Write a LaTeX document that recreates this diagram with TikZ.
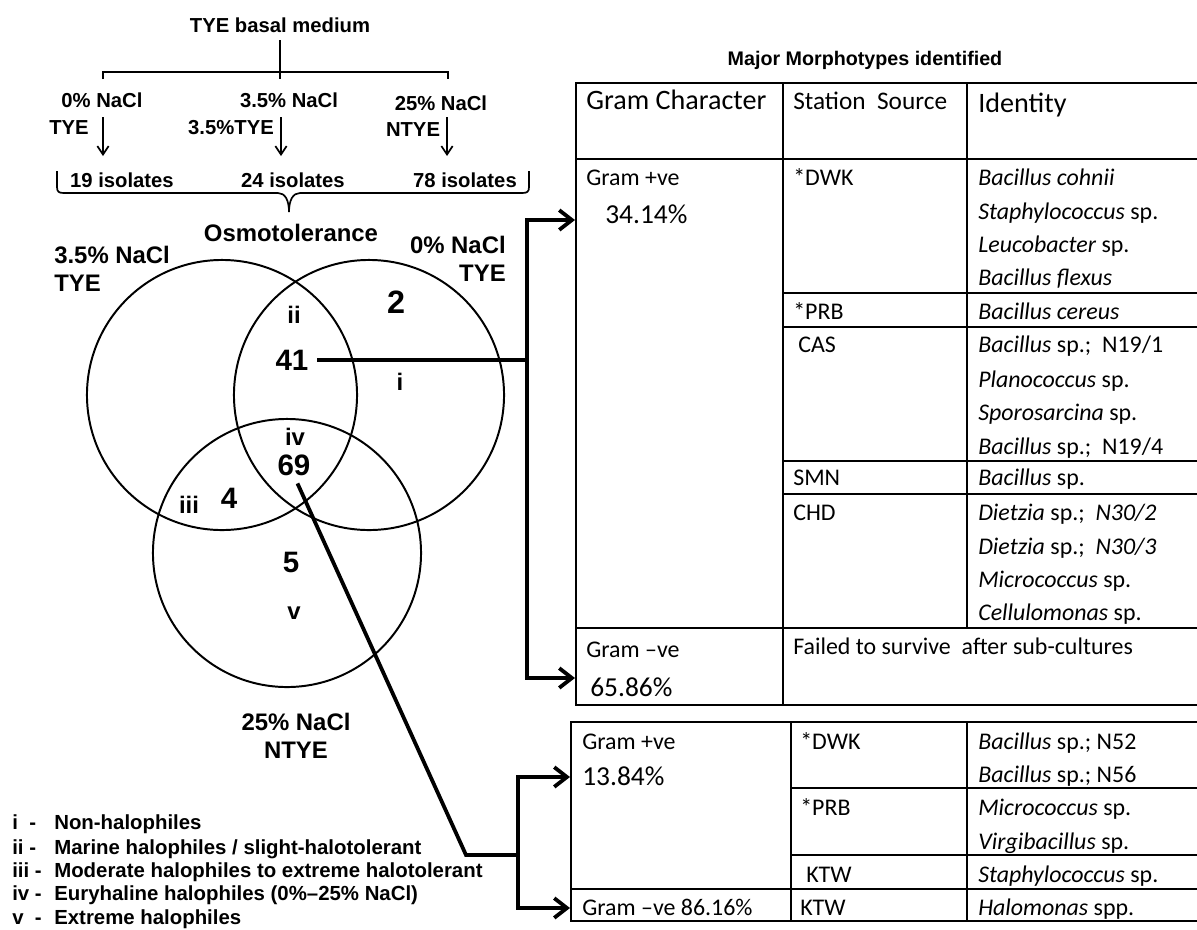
\documentclass[tikz,border=0pt]{standalone}
\usepackage{fontspec}
\setmainfont{Carlito}
\newfontfamily\arialfont{Liberation Sans}
\usetikzlibrary{positioning}
\usetikzlibrary{arrows.meta}
\usetikzlibrary{calc}

\tikzset{
	treelabel/.style={font=\arialfont\bfseries\fontsize{14.4}{17}\selectfont, inner sep=0pt},
	vennlabel/.style={font=\arialfont\bfseries\fontsize{17}{20}\selectfont, inner sep=0pt},
	vennnum/.style={font=\arialfont\bfseries\fontsize{21}{24}\selectfont, inner sep=0pt},
	keylabel/.style={font=\arialfont\bfseries\fontsize{14.5}{17}\selectfont, inner sep=0pt, anchor=west, text height=10.4pt, text depth=0pt},
	tabcell/.style={font=\fontsize{17}{20}\selectfont, inner sep=0pt, anchor=west, text height=11pt, text depth=0pt},
	tabhead/.style={tabcell, font=\fontsize{20}{24}\selectfont, text height=13pt},
	tabpct/.style={tabcell, font=\fontsize{19.5}{23}\selectfont, text height=12.6pt},
	vennring/.style={black, line width=1.4pt},
	treeline/.style={black, line width=1.2pt},
	treearrow/.style={treeline, -{Straight Barb[length=6pt, width=8pt]}},
	thickline/.style={black, line width=2.7pt},
	bigtips/.style={{Straight Barb[length=9pt, width=14pt]}-{Straight Barb[length=9pt, width=14pt]}},
	tabline/.style={black, line width=1.1pt},
}

\begin{document}
\begin{tikzpicture}[x=0.025cm, y=-0.025cm]
	\useasboundingbox (0,0) rectangle (1197,929);

	% media tree
	\node[treelabel] (basal) at (280,25) {TYE basal medium};
	\coordinate (split) at (280,72);
	\coordinate (splitL) at (103,72);
	\coordinate (splitR) at (448,72);
	\coordinate (tickL) at (103,79);
	\coordinate (tickM) at (280,79);
	\coordinate (tickR) at (448,79);
	\draw[treeline, shorten <=5.5pt] (basal.south) -- (split);
	\draw[treeline] (tickL) -- (splitL) -- (splitR) -- (tickR);
	\draw[treeline] (split) -- (tickM);

	\node[treelabel] (nacl0) at (102,100) {0\% NaCl};
	\node[treelabel] (nacl35) at (289,100) {3.5\% NaCl};
	\node[treelabel] (nacl25) at (441,103) {25\% NaCl};
	\node[treelabel] (tye0) at (69,128) {TYE};
	\node[treelabel] (tye35) at (231,128) {3.5\%TYE};
	\node[treelabel] (tye25) at (413,130) {NTYE};
	\coordinate (arr0) at (103,117);
	\coordinate (arr35) at (281,117);
	\coordinate (arr25) at (447,117);
	\draw[treearrow] (arr0) -- ++(0,39);
	\draw[treearrow] (arr35) -- ++(0,39);
	\draw[treearrow] (arr25) -- ++(0,39);
	\node[treelabel] (iso0) at (122,180) {19 isolates};
	\node[treelabel] (iso35) at (293,180) {24 isolates};
	\node[treelabel] (iso25) at (465,180) {78 isolates};

	% brace down to the Venn diagram
	\draw[treeline] (57,171) -- (57,187) .. controls (57,192) and (59,193) .. (64,193) -- (278,193) .. controls (285,193) and (289,200) .. (289,212) .. controls (289,200) and (293,193) .. (300,193) -- (522,193) .. controls (527,193) and (529,192) .. (529,187) -- (529,171);

	% Venn diagram
	\node[vennlabel] (osmo) at (291,233) {Osmotolerance};
	\node[vennlabel, align=left, anchor=west] (set35) at (54,269) {3.5\% NaCl\\TYE};
	\node[vennlabel, align=right, anchor=east] (set0) at (506,259) {0\% NaCl\\TYE};
	\node[vennlabel, align=center] (set25) at (296,736) {25\% NaCl\\NTYE};

	\draw[vennring] (222,395) circle[radius=3.375cm];
	\draw[vennring] (369,395) circle[radius=3.375cm];
	\draw[vennring] (287,553) circle[radius=3.35cm];

	\node[vennnum, font=\arialfont\bfseries\fontsize{23}{26}\selectfont] (n2) at (396,302) {2};
	\node[vennnum] (n41) at (292,360) {41};
	\node[vennnum] (n69) at (294,465) {69};
	\node[vennnum] (n4) at (229,498) {4};
	\node[vennnum] (n5) at (291,562) {5};
	\node[vennlabel] (ri) at (400,382) {i};
	\node[vennlabel] (rii) at (294,315) {ii};
	\node[vennlabel] (riii) at (189,505) {iii};
	\node[vennlabel] (riv) at (295,437) {iv};
	\node[vennlabel] (rv) at (294,613) {v};

	% connectors to the tables
	\coordinate (hub41) at (527,360);
	\coordinate (hubtop) at (527,220);
	\coordinate (hubbot) at (527,678);
	\coordinate (tipA) at (575,220);
	\coordinate (tipB) at (575,678);
	\draw[thickline, shorten <=6pt] (n41) -- (hub41);
	\draw[thickline, bigtips] (tipA) -- (hubtop) -- (hubbot) -- (tipB);

	\coordinate (bend69) at (466,855);
	\coordinate (hub69) at (518,855);
	\coordinate (hubtop2) at (518,777);
	\coordinate (hubbot2) at (518,908);
	\coordinate (tipC) at (570,777);
	\coordinate (tipD) at (570,908);
	\draw[thickline, shorten <=6pt] (n69.south) -- (bend69) -- (hub69);
	\draw[thickline, bigtips] (tipC) -- (hubtop2) -- (hubbot2) -- (tipD);

	% key
	\node[keylabel] (keyi) at (12,822) {i\ \ -};
	\node[keylabel] (keyii) at (12,847) {ii -};
	\node[keylabel] (keyiii) at (12,870) {iii -};
	\node[keylabel] (keyiv) at (12,893) {iv -};
	\node[keylabel] (keyv) at (12,917) {v\ \ -};
	\node[keylabel] (texti) at (54,822) {Non-halophiles};
	\node[keylabel] (textii) at (54,847) {Marine halophiles / slight-halotolerant};
	\node[keylabel] (textiii) at (54,870) {Moderate halophiles to extreme halotolerant};
	\node[keylabel] (textiv) at (54,893) {Euryhaline halophiles (0\%–25\% NaCl)};
	\node[keylabel] (textv) at (54,917) {Extreme halophiles};

	% upper table
	\node[treelabel, font=\arialfont\bfseries\fontsize{14}{16}\selectfont] (major) at (865,60) {Major Morphotypes identified};
	\draw[tabline] (1197,83) -- (576,83) -- (576,705) -- (1197,705);
	\draw[tabline] (576,159) -- (1197,159);
	\draw[tabline] (576,628) -- (1197,628);
	\draw[tabline] (783,83) -- (783,705);
	\draw[tabline] (967,83) -- (967,628);
	\draw[tabline] (783,293) -- (1197,293);
	\draw[tabline] (783,327) -- (1197,327);
	\draw[tabline] (783,461) -- (1197,461);
	\draw[tabline] (783,494) -- (1197,494);

	\node[tabhead] (hgram) at (586,100) {Gram Character};
	\node[tabcell, font=\fontsize{18}{21}\selectfont] (hstat) at (793,102) {Station\ \ Source};
	\node[tabhead] (hid) at (978,103) {Identity};

	\node[tabcell] (gpos1) at (586,178) {Gram +ve};
	\node[tabpct] (ppos1) at (605,215) {34.14\%};
	\node[tabcell] (gneg1) at (586,650) {Gram –ve};
	\node[tabpct] (pneg1) at (590,688) {65.86\%};
	\node[tabcell] (failed) at (793,647) {Failed to survive\ \ after sub-cultures};

	\node[tabcell] (sdwk1) at (793,178) {*DWK};
	\node[tabcell] (sprb1) at (793,312) {*PRB};
	\node[tabcell] (scas1) at (798,345) {CAS};
	\node[tabcell] (ssmn1) at (793,478) {SMN};
	\node[tabcell] (schd1) at (793,513) {CHD};

	\node[tabcell] (ida) at (978,178) {\textit{Bacillus cohnii}};
	\node[tabcell] (idb) at (978,212) {\textit{Staphylococcus} sp.};
	\node[tabcell] (idc) at (978,245) {\textit{Leucobacter} sp.};
	\node[tabcell] (idd) at (978,278) {\textit{Bacillus flexus}};
	\node[tabcell] (ide) at (978,312) {\textit{Bacillus cereus}};
	\node[tabcell] (idf) at (978,345) {\textit{Bacillus} sp.;\ \ N19/1};
	\node[tabcell] (idg) at (978,380) {\textit{Planococcus} sp.};
	\node[tabcell] (idh) at (978,413) {\textit{Sporosarcina} sp.};
	\node[tabcell] (idi) at (978,447) {\textit{Bacillus} sp.;\ \ N19/4};
	\node[tabcell] (idj) at (978,478) {\textit{Bacillus} sp.};
	\node[tabcell] (idk) at (978,513) {\textit{Dietzia} sp.;\ \ \textit{N30/2}};
	\node[tabcell] (idl) at (978,547) {\textit{Dietzia} sp.;\ \ \textit{N30/3}};
	\node[tabcell] (idm) at (978,580) {\textit{Micrococcus} sp.};
	\node[tabcell] (idn) at (978,613) {\textit{Cellulomonas} sp.};

	% lower table
	\draw[tabline] (1197,722) -- (571,722) -- (571,921) -- (1197,921);
	\draw[tabline] (571,889) -- (1197,889);
	\draw[tabline] (791,722) -- (791,921);
	\draw[tabline] (967,722) -- (967,921);
	\draw[tabline] (791,788) -- (1197,788);
	\draw[tabline] (791,855) -- (1197,855);

	\node[tabcell] (gpos2) at (582,742) {Gram +ve};
	\node[tabpct] (ppos2) at (582,777) {13.84\%};
	\node[tabcell] (gneg2) at (582,908) {Gram –ve 86.16\%};
	\node[tabcell] (sdwk2) at (800,742) {*DWK};
	\node[tabcell] (sprb2) at (800,808) {*PRB};
	\node[tabcell] (sktw2) at (806,875) {KTW};
	\node[tabcell] (sktw3) at (800,908) {KTW};
	\node[tabcell] (ido) at (978,742) {\textit{Bacillus} sp.; N52};
	\node[tabcell] (idp) at (978,775) {\textit{Bacillus} sp.; N56};
	\node[tabcell] (idq) at (978,808) {\textit{Micrococcus} sp.};
	\node[tabcell] (idr) at (978,842) {\textit{Virgibacillus} sp.};
	\node[tabcell] (ids) at (978,875) {\textit{Staphylococcus} sp.};
	\node[tabcell] (idt) at (978,908) {\textit{Halomonas} spp.};
\end{tikzpicture}
\end{document}
